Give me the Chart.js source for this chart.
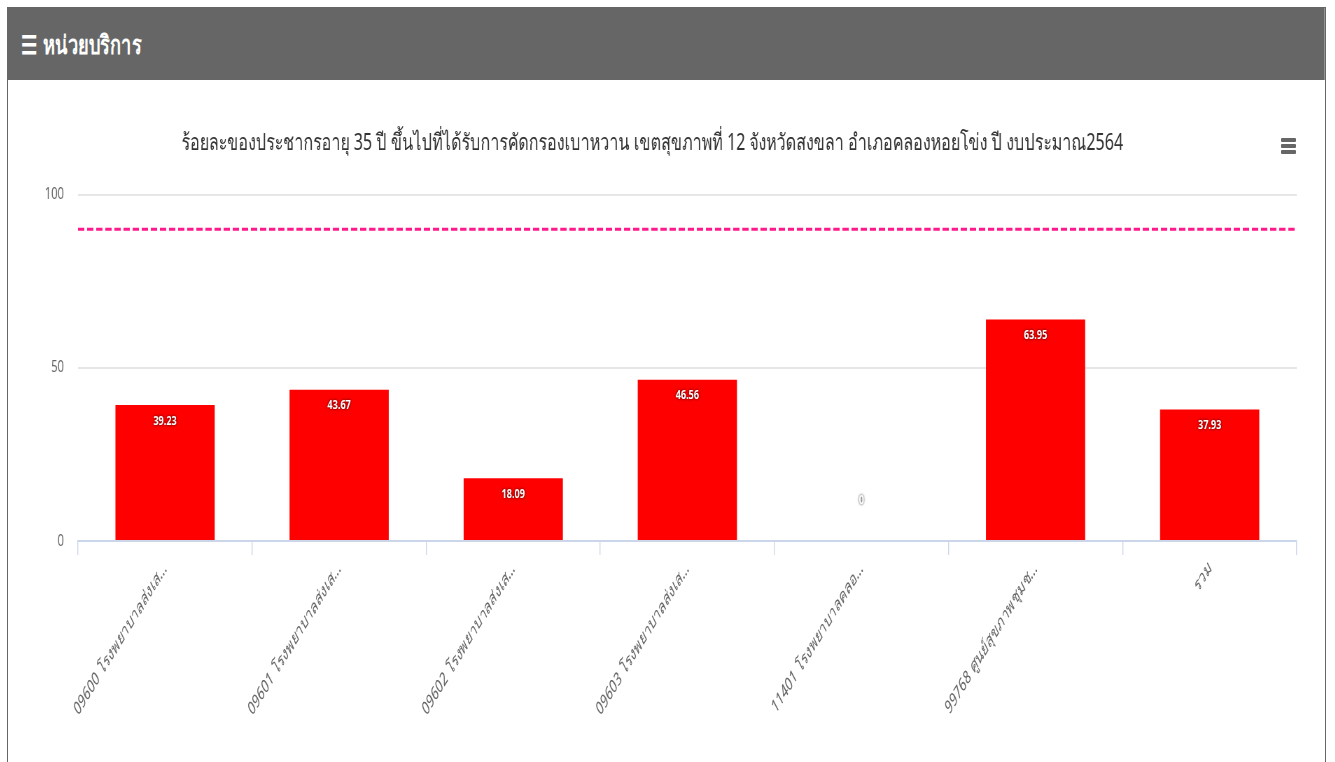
<!DOCTYPE html>
<html>
<head>
<meta charset="utf-8">
<script src="https://cdn.jsdelivr.net/npm/chart.js@4"></script>
<style>
  body { margin: 0; background: #fff; font-family: "Noto Sans", sans-serif; overflow: hidden; }
  .panel { position: absolute; left: 7px; top: 7px; width: 1319px; height: 760px; border: 1px solid #666; border-bottom: none; box-sizing: border-box; overflow: hidden; }
  /* the reference is horizontally squeezed, so lay out wide and squeeze by 0.7 */
  .inner { position: absolute; left: 0; top: 0; width: 1881px; height: 759px; transform: scaleX(0.7); transform-origin: 0 0; }
  .head { height: 72px; background: #666; color: #fff; font-size: 26px; font-weight: bold; line-height: 72px; padding-left: 19px; }
  .head span { margin-right: 8px; }
  .menu { position: absolute; right: 29px; top: 130px; width: 15px; }
  .menu i { display: block; height: 4px; background: #666; margin-bottom: 2px; border-radius: 1px; }
  .wrap { position: absolute; left: 0; top: 73px; width: 1881px; height: 686px; }
</style>
</head>
<body>
<div class="panel">
  <div class="inner">
    <div class="head"><span>&#9776;</span>หน่วยบริการ</div>
    <div class="wrap"><canvas id="unitChart"></canvas></div>
  </div>
  <div class="menu"><i></i><i></i><i></i></div>
</div>
<script>
  var chartTitle = 'ร้อยละของประชากรอายุ 35 ปี ขึ้นไปที่ได้รับการคัดกรองเบาหวาน เขตสุขภาพที่ 12 จังหวัดสงขลา อำเภอคลองหอยโข่ง ปี งบประมาณ2564';
  var unitLabels = [
    '09600 โรงพยาบาลส่งเส...',
    '09601 โรงพยาบาลส่งเส...',
    '09602 โรงพยาบาลส่งเส...',
    '09603 โรงพยาบาลส่งเส...',
    '11401 โรงพยาบาลคลอ...',
    '99768 ศูนย์สุขภาพชุมช...',
    'รวม'
  ];
  var screenedPct = [39.23, 43.67, 18.09, 46.56, 0, 63.95, 37.93];
  var targetPct = 90;
  var yTicks = [0, 50, 100];

  var fontName = '"Noto Sans", sans-serif';

  // dashed target line + labels inside the bars
  var extras = {
    id: 'extras',
    afterDatasetsDraw: function(chart) {
      var ctx = chart.ctx;
      var area = chart.chartArea;
      var y = chart.scales.y.getPixelForValue(targetPct);
      ctx.save();
      ctx.strokeStyle = '#ff1a8c';
      ctx.lineWidth = 3;
      ctx.setLineDash([9, 4]);
      ctx.beginPath();
      ctx.moveTo(area.left, y);
      ctx.lineTo(area.right, y);
      ctx.stroke();
      ctx.setLineDash([]);

      var meta = chart.getDatasetMeta(0);
      ctx.font = 'bold 13px ' + fontName;
      ctx.textAlign = 'center';
      ctx.textBaseline = 'middle';
      ctx.shadowColor = 'rgba(0,0,0,0.85)';
      ctx.shadowBlur = 3;
      meta.data.forEach(function(bar, i) {
        var v = screenedPct[i];
        var ty = v > 0 ? bar.y + 16 : bar.y - 41;
        ctx.fillStyle = '#fff';
        ctx.fillText(String(v), bar.x, ty);
      });
      ctx.restore();
    }
  };

  new Chart(document.getElementById('unitChart').getContext('2d'), {
    type: 'bar',
    data: {
      labels: unitLabels,
      datasets: [{
        data: screenedPct,
        backgroundColor: '#ff0000',
        barPercentage: 0.57,
        categoryPercentage: 1
      }]
    },
    options: {
      responsive: true,
      maintainAspectRatio: false,
      animation: false,
      layout: { padding: { left: 0, right: 40, top: 0, bottom: 0 } },
      plugins: {
        legend: { display: false },
        tooltip: { enabled: false },
        title: {
          display: true,
          text: chartTitle,
          color: '#333',
          font: { family: fontName, size: 23, weight: 'normal' },
          padding: { top: 49, bottom: 37 }
        }
      },
      scales: {
        x: {
          grid: { drawOnChartArea: false, drawTicks: true, tickLength: 14, offset: true, color: '#ccd6eb', lineWidth: 1.4 },
          border: { color: '#ccd6eb', width: 2 },
          ticks: {
            color: '#666',
            font: { family: fontName, size: 17.5, style: 'italic' },
            maxRotation: 49,
            minRotation: 49,
            padding: 4
          },
          afterFit: function(s) { s.height = 226; }
        },
        y: {
          min: 0,
          max: 100,
          afterBuildTicks: function(s) { s.ticks = yTicks.map(function(v) { return { value: v }; }); },
          grid: { color: '#e6e6e6', drawTicks: false, lineWidth: 2 },
          border: { display: false },
          ticks: { color: '#666', font: { family: fontName, size: 16 }, padding: 20 },
          afterFit: function(s) { s.width = 100; }
        }
      }
    },
    plugins: [extras]
  });
</script>
</body>
</html>
